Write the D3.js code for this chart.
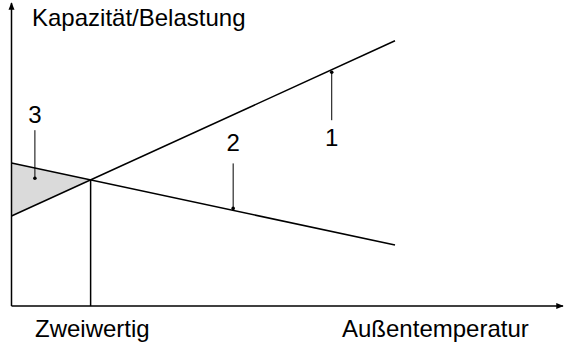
<!DOCTYPE html>
<html>
<head>
<meta charset="utf-8">
<script src="https://cdn.jsdelivr.net/npm/d3@7"></script>
<style>
  body { margin: 0; background: #fff; }
  svg text { font-family: "Liberation Sans", Arial, sans-serif; fill: #000; }
</style>
</head>
<body>
<svg id="chart" width="565" height="346"></svg>
<script>
// Außentemperatur (arbitrary units)
var temps = [0, 10];
// Kapazität der Wärmepumpe and Heizlast at those temps
var capacity = [3.0, 8.84];
var load = [4.77, 2.03];
// annotation labels: number, x, which curve / y
var annoLabels = ["1", "2", "3"];
var annoX = [8.35, 5.78, 0.61];
var annoY = [null, null, 4.26];
var yTitle = "Kapazität/Belastung";
var xTitle = "Außentemperatur";
var pointLabel = "Zweiwertig";

var svg = d3.select("#chart");
var x = d3.scaleLinear().domain([0, 10]).range([11.5, 395]);
var y = d3.scaleLinear().domain([0, 10]).range([306, 6]);

function lin(arr, t) {
	return arr[0] + (arr[1] - arr[0]) * (t - temps[0]) / (temps[1] - temps[0]);
}
// bivalent point = where both lines meet
var kc = (capacity[1] - capacity[0]) / (temps[1] - temps[0]);
var kl = (load[1] - load[0]) / (temps[1] - temps[0]);
var tBiv = (load[0] - capacity[0]) / (kc - kl);
var vBiv = lin(capacity, tBiv);

// shaded area (extra heat needed)
svg.append("path")
	.attr("d", d3.line().x(function(d){return x(d[0]);}).y(function(d){return y(d[1]);})([
		[0, load[0]], [tBiv, vBiv], [0, capacity[0]]
	]) + "Z")
	.attr("fill", "#dadada");

// axes
svg.append("defs").append("marker")
	.attr("id", "arr").attr("viewBox", "0 0 10 10")
	.attr("refX", 9).attr("refY", 5)
	.attr("markerWidth", 5).attr("markerHeight", 5)
	.attr("orient", "auto")
	.append("path").attr("d", "M0,1 L10,5 L0,9 Z").attr("fill", "#000");

svg.append("line")
	.attr("x1", x(0)).attr("y1", y(0)).attr("x2", x(0)).attr("y2", 3)
	.attr("stroke", "#000").attr("stroke-width", 1.5).attr("marker-end", "url(#arr)");
svg.append("line")
	.attr("x1", x(0)).attr("y1", y(0)).attr("x2", 563).attr("y2", y(0))
	.attr("stroke", "#000").attr("stroke-width", 1.5).attr("marker-end", "url(#arr)");

// lines
[capacity, load].forEach(function(s) {
	svg.append("line")
		.attr("x1", x(temps[0])).attr("y1", y(s[0]))
		.attr("x2", x(temps[1])).attr("y2", y(s[1]))
		.attr("stroke", "#000").attr("stroke-width", 1.5);
});

// bivalent drop line
svg.append("line")
	.attr("x1", x(tBiv)).attr("y1", y(vBiv)).attr("x2", x(tBiv)).attr("y2", y(0))
	.attr("stroke", "#000").attr("stroke-width", 1.5);

// annotations
var curves = [capacity, load, null];
var lay = [ // leader end and text baseline relative to dot
	{dot: 2.5, lead: 48, txt: 74},
	{dot: -2, lead: -45, txt: -57},
	{dot: 0, lead: -48, txt: -55.5}
];
annoLabels.forEach(function(lbl, i) {
	var v = curves[i] ? lin(curves[i], annoX[i]) : annoY[i];
	var px = x(annoX[i]), py = y(v) + lay[i].dot;
	svg.append("line")
		.attr("x1", px).attr("y1", py).attr("x2", px).attr("y2", py + lay[i].lead)
		.attr("stroke", "#000").attr("stroke-width", 1);
	svg.append("circle").attr("cx", px).attr("cy", py).attr("r", 1.8).attr("fill", "#000");
	svg.append("text").attr("x", px).attr("y", py + lay[i].txt)
		.attr("text-anchor", "middle").attr("font-size", "24px").text(lbl);
});

// titles
svg.append("text").attr("x", 32).attr("y", 26).attr("font-size", "24px").text(yTitle);
svg.append("text").attr("x", 35).attr("y", 337).attr("font-size", "24px").text(pointLabel);
svg.append("text").attr("x", 342).attr("y", 337).attr("font-size", "24px").text(xTitle);
</script>
</body>
</html>
